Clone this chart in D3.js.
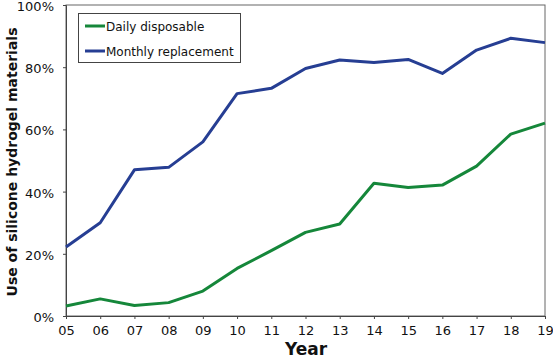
<!DOCTYPE html>
<html><head><meta charset="utf-8">
<script src="https://cdn.jsdelivr.net/npm/d3@7"></script>
<style>body{margin:0;background:#fff}svg{display:block}</style>
</head><body><svg id="c" width="553" height="359"></svg>
<script>
const years = ["05","06","07","08","09","10","11","12","13","14","15","16","17","18","19"];
const daily = [3.2,5.5,3.4,4.3,8.0,15.3,21.0,26.9,29.6,42.7,41.3,42.1,48.2,58.5,62.0];
const monthly = [22.2,30.0,47.0,47.8,56.0,71.5,73.2,79.6,82.3,81.5,82.5,78.0,85.5,89.3,87.9];
const yTicks = [0,20,40,60,80,100];
const seriesNames = ["Daily disposable","Monthly replacement"];
const colors = ["#15873a","#263e93"];

const svg = d3.select("#c");
const m = {l:66, r:545, t:5, b:316};
const x = d3.scalePoint().domain(years).range([m.l, m.r]);
const y = d3.scaleLinear().domain([0,100]).range([m.b, m.t]);
const font = "DejaVu Sans, Verdana, sans-serif";

svg.append("rect").attr("x",m.l).attr("y",m.t).attr("width",m.r-m.l).attr("height",m.b-m.t)
  .attr("fill","none").attr("stroke","#666").attr("stroke-width",1);

const xa = svg.append("g").attr("transform",`translate(0,${m.b})`)
  .call(d3.axisBottom(x).tickSize(3).tickPadding(7));
const ya = svg.append("g").attr("transform",`translate(${m.l},0)`)
  .call(d3.axisLeft(y).tickValues(yTicks).tickFormat(d=>d+"%").tickSize(3).tickPadding(9));
[xa,ya].forEach(a=>{
  a.select(".domain").attr("stroke","#444");
  a.selectAll(".tick line").attr("stroke","#444");
  a.selectAll("text").attr("font-family",font).attr("font-size",13).attr("fill","#111");
});
ya.selectAll("text").attr("dy","0.42em");

const line = d3.line().x((d,i)=>x(years[i])).y(d=>y(d));
[daily, monthly].forEach((s,k)=>{
  svg.append("path").datum(s).attr("d",line).attr("fill","none")
    .attr("stroke",colors[k]).attr("stroke-width",3).attr("stroke-linejoin","round");
});

const lg = svg.append("g");
lg.append("rect").attr("x",78.5).attr("y",13.5).attr("width",162).attr("height",49)
  .attr("fill","#fff").attr("stroke","#444").attr("stroke-width",1);
seriesNames.forEach((n,i)=>{
  const yy = 26 + i*25;
  lg.append("line").attr("x1",85).attr("x2",105).attr("y1",yy).attr("y2",yy)
    .attr("stroke",colors[i]).attr("stroke-width",3);
  lg.append("text").attr("x",106).attr("y",yy+4.5).text(n)
    .attr("font-family",font).attr("font-size",12).attr("fill","#111");
});

svg.append("text").attr("transform","translate(17,162) rotate(-90)").attr("text-anchor","middle")
  .attr("font-family",font).attr("font-weight","bold").attr("font-size",14).attr("fill","#111")
  .text("Use of silicone hydrogel materials");
svg.append("text").attr("x",306).attr("y",355).attr("text-anchor","middle")
  .attr("font-family",font).attr("font-weight","bold").attr("font-size",17).attr("fill","#111")
  .text("Year");
</script></body></html>
